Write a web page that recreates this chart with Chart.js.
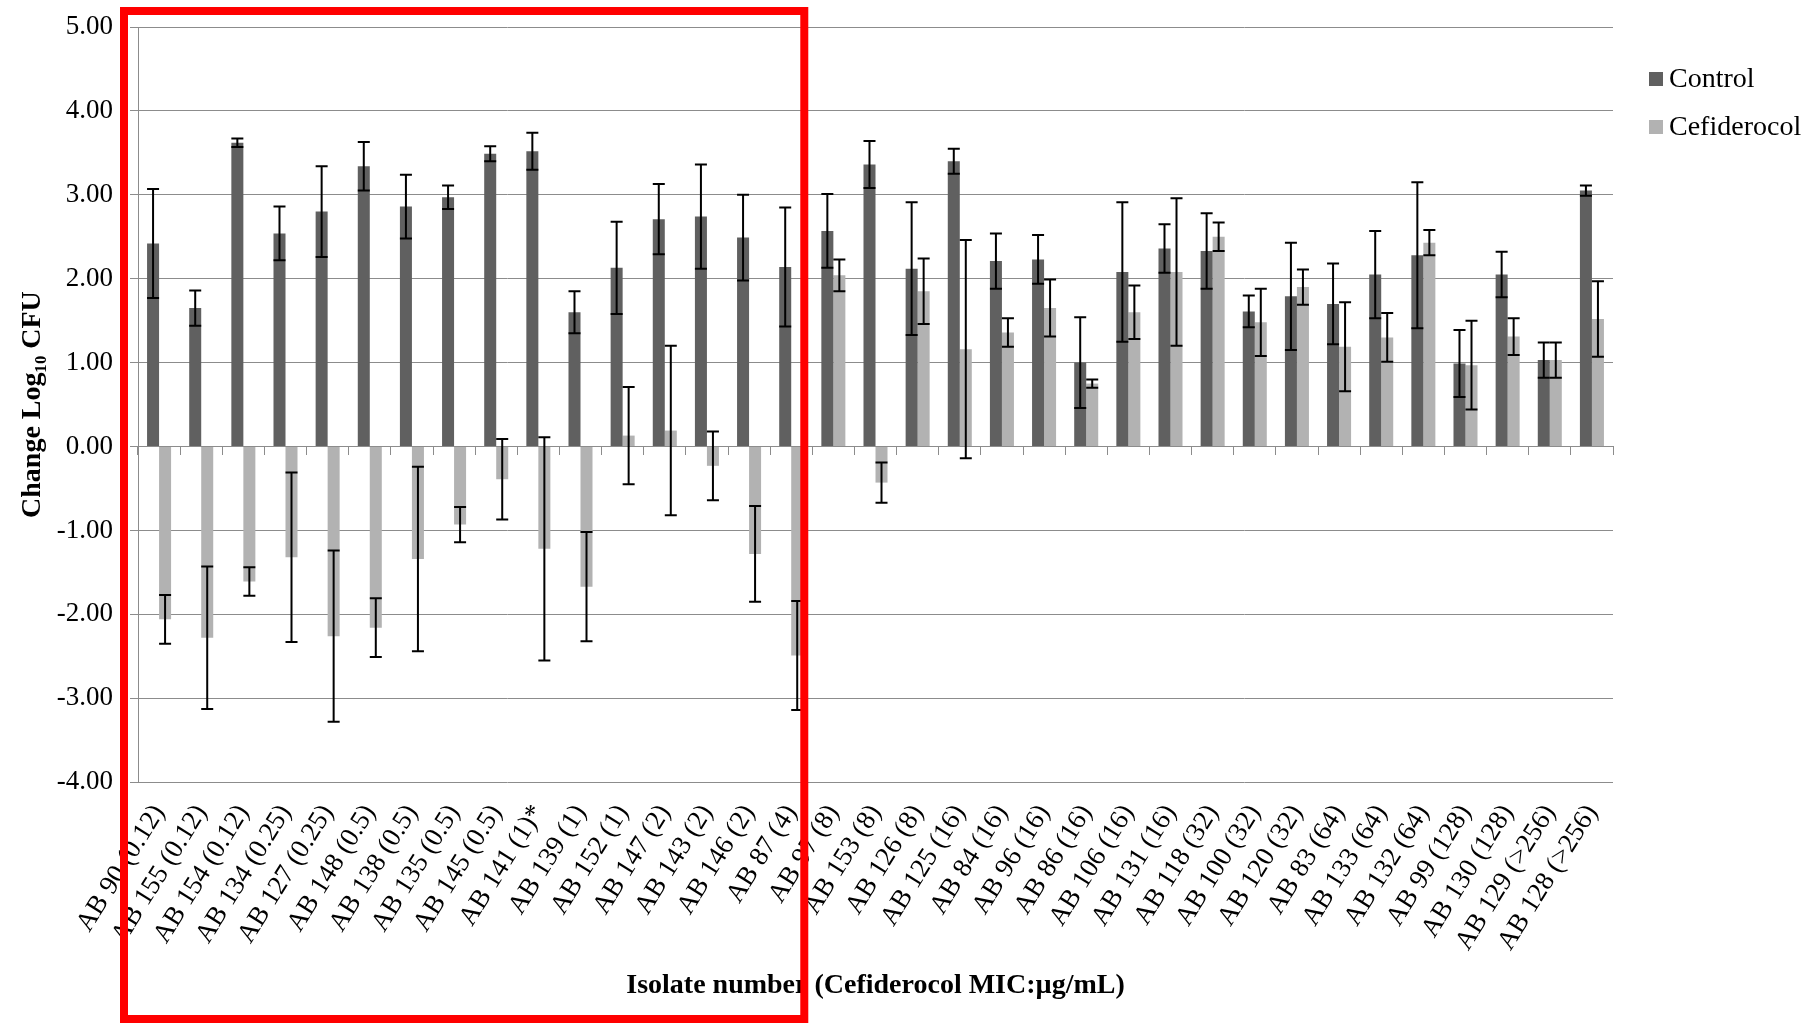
<!DOCTYPE html>
<html>
<head>
<meta charset="utf-8">
<title>Change Log10 CFU</title>
<script src="https://cdn.jsdelivr.net/npm/chart.js@4.4.1/dist/chart.umd.min.js"></script>
<style>
    html, body { margin: 0; padding: 0; background: #fff; }
    #wrap { width: 1814px; height: 1024px; }
</style>
</head>
<body>
<div id="wrap"><canvas id="g_cfu" width="1814" height="1024"></canvas></div>
<script>
const isolates = ['AB 90 (0.12)','AB 155 (0.12)','AB 154 (0.12)','AB 134 (0.25)','AB 127 (0.25)','AB 148 (0.5)',
    'AB 138 (0.5)','AB 135 (0.5)','AB 145 (0.5)','AB 141 (1)*','AB 139 (1)','AB 152 (1)','AB 147 (2)','AB 143 (2)',
    'AB 146 (2)','AB 87 (4)','AB 97 (8)','AB 153 (8)','AB 126 (8)','AB 125 (16)','AB 84 (16)','AB 96 (16)',
    'AB 86 (16)','AB 106 (16)','AB 131 (16)','AB 118 (32)','AB 100 (32)','AB 120 (32)','AB 83 (64)','AB 133 (64)',
    'AB 132 (64)','AB 99 (128)','AB 130 (128)','AB 129 (>256)','AB 128 (>256)'];

const control = [2.42, 1.65, 3.62, 2.54, 2.80, 3.34, 2.86, 2.97, 3.49, 3.52, 1.60, 2.13, 2.71, 2.74, 2.49, 2.14,
    2.57, 3.36, 2.12, 3.40, 2.21, 2.23, 1.00, 2.08, 2.36, 2.33, 1.61, 1.79, 1.70, 2.05, 2.28, 0.99, 2.05, 1.03, 3.05];
const control_err = [0.65, 0.21, 0.05, 0.32, 0.54, 0.29, 0.38, 0.14, 0.09, 0.22, 0.25, 0.55, 0.42, 0.62, 0.51, 0.71,
    0.44, 0.28, 0.79, 0.15, 0.33, 0.29, 0.54, 0.83, 0.29, 0.45, 0.19, 0.64, 0.48, 0.52, 0.87, 0.40, 0.27, 0.21, 0.06];

const cefiderocol = [-2.06, -2.28, -1.61, -1.32, -2.26, -2.16, -1.34, -0.93, -0.39, -1.22, -1.67, 0.13, 0.19, -0.23,
    -1.28, -2.49, 2.04, -0.43, 1.85, 1.16, 1.36, 1.65, 0.75, 1.60, 2.08, 2.50, 1.48, 1.90, 1.19, 1.30, 2.43, 0.97,
    1.31, 1.03, 1.52];
const cefiderocol_err = [0.29, 0.85, 0.17, 1.01, 1.02, 0.35, 1.10, 0.21, 0.48, 1.33, 0.65, 0.58, 1.01, 0.41, 0.57,
    0.65, 0.19, 0.24, 0.39, 1.30, 0.17, 0.34, 0.05, 0.32, 0.88, 0.17, 0.40, 0.21, 0.53, 0.29, 0.15, 0.53, 0.22, 0.21, 0.45];

const y_min = -4;
const y_max = 5;

const serif = "'Liberation Serif', 'Times New Roman', serif";
const grid_gray = '#8c8c8c';

Chart.defaults.font.family = serif;
Chart.defaults.color = '#000';

// error bars, drawn on top of both series
const errorBars = {
    id: 'errorBars',
    afterDatasetsDraw(chart)
    {
        let ctx = chart.ctx;
        let ys = chart.scales.y;
        ctx.save();
        ctx.strokeStyle = '#000';
        ctx.lineWidth = 2;
        chart.data.datasets.forEach((ds, d) => {
            let meta = chart.getDatasetMeta(d);
            meta.data.forEach((bar, i) => {
                let v = ds.data[i];
                let e = ds.errors[i];
                let top = ys.getPixelForValue(v + e);
                let bot = ys.getPixelForValue(v - e);
                let half = bar.width / 2;
                ctx.beginPath();
                ctx.moveTo(bar.x, top);
                ctx.lineTo(bar.x, bot);
                ctx.moveTo(bar.x - half, top);
                ctx.lineTo(bar.x + half, top);
                ctx.moveTo(bar.x - half, bot);
                ctx.lineTo(bar.x + half, bot);
                ctx.stroke();
            });
        });
        ctx.restore();
    }
};

// legend to the right of the plot, plus the red highlight box
const sideLegend = {
    id: 'sideLegend',
    afterDraw(chart)
    {
        let ctx = chart.ctx;
        let area = chart.chartArea;
        ctx.save();
        ctx.font = '28px ' + serif;
        ctx.textBaseline = 'middle';
        chart.data.datasets.forEach((ds, d) => {
            let x = area.right + 36;
            let y = 79 + d * 48;
            ctx.fillStyle = ds.backgroundColor;
            ctx.fillRect(x, y - 7, 14, 14);
            ctx.fillStyle = '#000';
            ctx.fillText(ds.label, x + 20, y + 1);
        });

        let xs = chart.scales.x;
        let cat = (xs.getPixelForValue(1) - xs.getPixelForValue(0));
        let left = xs.getPixelForValue(0) - cat / 2 - 14;
        let right = xs.getPixelForValue(15) + cat / 2 - 8;
        ctx.strokeStyle = '#ff0000';
        ctx.lineWidth = 8;
        ctx.strokeRect(left, 11, right - left, chart.height - 16);
        ctx.restore();
    }
};

function load_bars(target)
{
    let data = {
        labels: isolates,
        datasets: [
            {
                label: 'Control',
                data: control,
                errors: control_err,
                backgroundColor: '#606060',
                xAxisID: 'x'
            },
            {
                label: 'Cefiderocol',
                data: cefiderocol,
                errors: cefiderocol_err,
                backgroundColor: '#b2b2b2',
                xAxisID: 'x'
            }
        ]
    };

    return new Chart(target, {
        type: 'bar',
        data: data,
        options: {
            responsive: false,
            animation: false,
            devicePixelRatio: 1,
            categoryPercentage: 0.57,
            barPercentage: 1.0,
            layout: {
                padding: {left: 13, right: 201, top: 27, bottom: 17}
            },
            plugins: {
                legend: {display: false},
                tooltip: {enabled: false}
            },
            scales: {
                x: {
                    position: 'bottom',
                    offset: true,
                    grid: {display: false, drawTicks: false},
                    border: {display: false},
                    afterFit: (scale) => { scale.paddingLeft = 0; scale.paddingRight = 0; },
                    ticks: {
                        autoSkip: false,
                        minRotation: 58,
                        maxRotation: 58,
                        padding: 17,
                        font: {size: 27}
                    },
                    title: {
                        display: true,
                        text: 'Isolate number (Cefiderocol MIC:\u00b5g/mL)',
                        font: {size: 28, weight: 'bold'},
                        padding: {top: -4, bottom: 4}
                    }
                },
                x2: {
                    type: 'category',
                    position: {y: 0},
                    offset: true,
                    grid: {drawOnChartArea: false, color: grid_gray, tickLength: 8},
                    border: {color: grid_gray},
                    ticks: {display: false}
                },
                y: {
                    min: y_min,
                    max: y_max,
                    grid: {color: grid_gray, tickLength: 8},
                    border: {color: grid_gray},
                    afterFit: (scale) => {
                        scale.width = 125;
                        scale.paddingTop = 0;
                        scale.paddingBottom = 0;
                    },
                    ticks: {
                        stepSize: 1,
                        padding: 17,
                        font: {size: 27},
                        callback: (v) => Number(v).toFixed(2)
                    },
                    title: {
                        display: true,
                        text: 'Change Log\u2081\u2080 CFU',
                        font: {size: 28, weight: 'bold'},
                        padding: {top: 3, bottom: 4}
                    }
                }
            }
        },
        plugins: [errorBars, sideLegend]
    });
}

load_bars(document.getElementById('g_cfu'));
</script>
</body>
</html>
